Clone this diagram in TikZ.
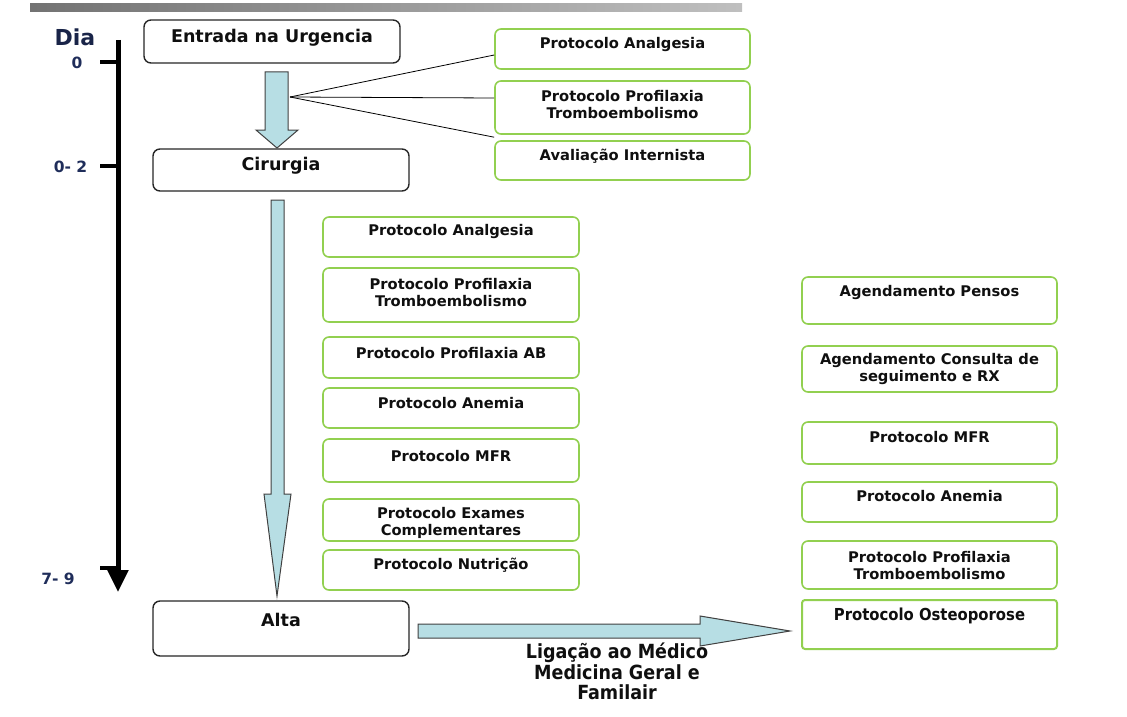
\documentclass[tikz,border=0pt]{standalone}
\usepackage{fontspec}
\setmainfont{DejaVu Sans}
\newfontfamily\condfont{DejaVu Sans Condensed}
\usetikzlibrary{arrows.meta,calc}
\definecolor{gbord}{RGB}{146,208,80}
\definecolor{afill}{RGB}{183,222,228}
\definecolor{navy}{RGB}{31,45,90}
\definecolor{txt}{RGB}{15,15,15}
\begin{document}
\begin{tikzpicture}[x=1pt,y=-1pt,
  gbox/.style={draw=gbord,line width=1.6pt,rounded corners=6pt,fill=white},
  kbox/.style={draw=black!85,line width=1.4pt,rounded corners=7pt,fill=white},
  lbl/.style={font=\fontsize{14.7}{17}\selectfont\bfseries,text=txt,align=center,inner sep=0pt},
  mainlbl/.style={font=\fontsize{17.5}{20}\selectfont\bfseries,text=txt,align=center,inner sep=0pt},
  daylbl/.style={font=\fontsize{15.5}{18}\selectfont\bfseries,text=navy,inner sep=0pt},
  blockarrow/.style={draw=black!75,line width=1pt,fill=afill},
  fanline/.style={draw=black,line width=0.8pt}]
\useasboundingbox (0,0) rectangle (1127,717);
% top gradient bar
\shade[left color=black!55,right color=black!25] (30,4) rectangle (742,12);
% timeline
\node[font=\fontsize{22}{25}\selectfont\bfseries,text=navy!80!black,inner sep=0pt] (dia) at (75,37) {Dia};
\coordinate (tltop) at (118,40);
\coordinate (tlbot) at (118,592);
\draw[line width=5pt,-{Triangle[width=20pt,length=22pt]}] (tltop) -- (tlbot);
\draw[line width=4pt] (100,62) -- (118,62);
\draw[line width=4pt] (100,166) -- (118,166);
\draw[line width=4pt] (100,568) -- (118,568);
\node[daylbl] (d0) at (77,63) {0};
\node[daylbl] (d1) at (70.5,167) {0- 2};
\node[daylbl] (d2) at (58,579) {7- 9};
% main boxes
\node[kbox,minimum width=256pt,minimum height=43pt] (ent) at (272,41.5) {};
\node[mainlbl] at (272,38) {Entrada na Urgencia};
\node[kbox,minimum width=256pt,minimum height=42pt] (cir) at (281,170) {};
\node[mainlbl] at (281,166) {Cirurgia};
\node[kbox,minimum width=256pt,minimum height=55pt] (alta) at (281,628.5) {};
\node[mainlbl] at (281,620) {Alta};
% block arrows
\draw[blockarrow] (265,72) -- (288,72) -- (288,130) -- (298,130) -- (277,148) -- (256,130) -- (265,130) -- cycle;
\draw[blockarrow] (271,200) -- (284,200) -- (284,494) -- (291,494) -- (277,596) -- (264,494) -- (271,494) -- cycle;
\draw[blockarrow] (418,624) -- (700,624) -- (700,616) -- (790,631) -- (700,646) -- (700,638) -- (418,638) -- cycle;
% top right boxes
\node[gbox,minimum width=255pt,minimum height=40pt] (ta) at (622.5,49) {};
\node[lbl] at (622.5,45) {Protocolo Analgesia};
\node[gbox,minimum width=255pt,minimum height=53pt] (tp) at (622.5,107.5) {};
\node[lbl] at (622.5,104.5) {Protocolo Profilaxia\\Tromboembolismo};
\node[gbox,minimum width=255pt,minimum height=39pt] (ti) at (622.5,160.5) {};
\node[lbl] at (622.5,156) {Avaliação Internista};
% fan lines
\coordinate (fan) at (290,97);
\draw[fanline] (fan) -- ($(ta.west)+(0,6)$);
\draw[fanline] (fan) -- ($(tp.west)+(0,-9.5)$);
\draw[fanline] (fan) -- ($(ti.north west)+(0,-3)$);
% middle column
\node[gbox,minimum width=256pt,minimum height=40pt] (m1) at (451,237) {};
\node[lbl] at (451,232) {Protocolo Analgesia};
\node[gbox,minimum width=256pt,minimum height=54pt] (m2) at (451,295) {};
\node[lbl] at (451,292.5) {Protocolo Profilaxia\\Tromboembolismo};
\node[gbox,minimum width=256pt,minimum height=41pt] (m3) at (451,357.5) {};
\node[lbl] at (451,353) {Protocolo Profilaxia AB};
\node[gbox,minimum width=256pt,minimum height=40pt] (m4) at (451,408) {};
\node[lbl] at (451,403) {Protocolo Anemia};
\node[gbox,minimum width=256pt,minimum height=43pt] (m5) at (451,460.5) {};
\node[lbl] at (451,456) {Protocolo MFR};
\node[gbox,minimum width=256pt,minimum height=42pt] (m6) at (451,520) {};
\node[lbl] at (451,523) {Protocolo Exames\\Complementares};
\node[gbox,minimum width=256pt,minimum height=40pt] (m7) at (451,570) {};
\node[lbl] at (451,565) {Protocolo Nutrição};
% right column
\node[gbox,minimum width=255pt,minimum height=47pt] (r1) at (929.5,300.5) {};
\node[lbl] at (929.5,292) {Agendamento Pensos};
\node[gbox,minimum width=255pt,minimum height=46pt] (r2) at (929.5,369) {};
\node[lbl] at (929.5,368.5) {Agendamento Consulta de\\seguimento e RX};
\node[gbox,minimum width=255pt,minimum height=42pt] (r3) at (929.5,443) {};
\node[lbl] at (929.5,437) {Protocolo MFR};
\node[gbox,minimum width=255pt,minimum height=40pt] (r4) at (929.5,502) {};
\node[lbl] at (929.5,496) {Protocolo Anemia};
\node[gbox,minimum width=255pt,minimum height=48pt] (r5) at (929.5,565) {};
\node[lbl] at (929.5,565.5) {Protocolo Profilaxia\\Tromboembolismo};
\node[gbox,rounded corners=3pt,line width=2pt,minimum width=255pt,minimum height=49pt] (r6) at (929.5,624.5) {};
\node[lbl,font=\condfont\fontsize{16.5}{19}\selectfont\bfseries] at (929.5,616) {Protocolo Osteoporose};
% link label
\node[font=\condfont\fontsize{19.5}{20.5}\selectfont\bfseries,text=txt,align=center,inner sep=0pt] (lig) at (617,671.5) {Ligação ao Médico\\Medicina Geral e\\Familair};
\end{tikzpicture}
\end{document}
